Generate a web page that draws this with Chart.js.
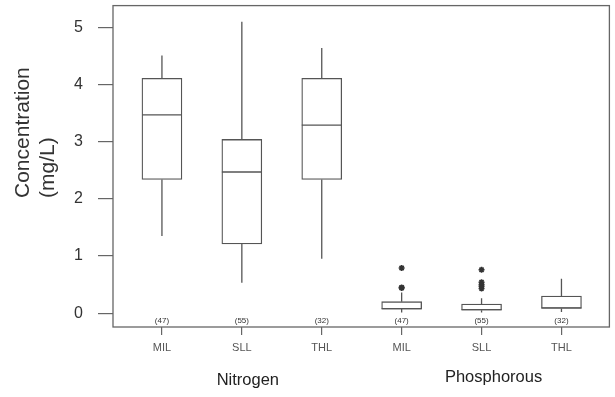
<!DOCTYPE html>
<html>
<head>
<meta charset="utf-8">
<script src="https://cdn.jsdelivr.net/npm/chart.js@4/dist/chart.umd.min.js"></script>
<style>
html,body{margin:0;padding:0;background:#fff;}
#wrap{width:615px;height:397px;position:relative;}
</style>
</head>
<body>
<div id="wrap"><canvas id="c" width="615" height="397"></canvas></div>
<script>
// ---- data ----
const categories = ['MIL', 'SLL', 'THL', 'MIL', 'SLL', 'THL'];
const groups = ['Nitrogen', 'Phosphorous'];
const counts = [47, 55, 32, 47, 55, 32];
const whiskerLow  = [1.35, 0.53, 0.95, 0.01, 0.01, 0.02];
const q1          = [2.34, 1.21, 2.34, 0.07, 0.05, 0.08];
const median      = [3.47, 2.47, 3.29, 0.08, 0.06, 0.09];
const q3          = [4.11, 3.04, 4.11, 0.20, 0.16, 0.30];
const whiskerHigh = [4.51, 5.10, 4.64, 0.36, 0.26, 0.60];
const outliersMIL_P = [0.44, 0.45, 0.79];
const outliersSLL_P = [0.43, 0.47, 0.50, 0.54, 0.76];
const yTicks = [0, 1, 2, 3, 4, 5];

// ---- styling ----
const FONT = "'Liberation Sans', Arial, sans-serif";
const LINE = '#555';
const TEXT = '#333';
const HALF = 0.25; // half box width in category units

const pos = categories.map((_, i) => i + 1);

const boxData = pos.map((x, i) => ({x: x, y: [q1[i], q3[i]]}));
const medianData = [];
pos.forEach((x, i) => {
  medianData.push({x: x - HALF, y: median[i]}, {x: x + HALF, y: median[i]}, {x: null, y: null});
});
const whiskerData = [];
pos.forEach((x, i) => {
  whiskerData.push({x: x, y: q3[i]}, {x: x, y: whiskerHigh[i]}, {x: null, y: null});
  whiskerData.push({x: x, y: whiskerLow[i]}, {x: x, y: q1[i]}, {x: null, y: null});
});
const outlierData = [
  ...outliersMIL_P.map(v => ({x: 4, y: v})),
  ...outliersSLL_P.map(v => ({x: 5, y: v}))
];

const decor = {
  id: 'decor',
  afterDraw(chart) {
    const ctx = chart.ctx;
    const a = chart.chartArea;
    const xs = chart.scales.x;
    ctx.save();
    // frame
    ctx.strokeStyle = '#666';
    ctx.lineWidth = 1.3;
    ctx.strokeRect(a.left, a.top, a.right - a.left, a.bottom - a.top);
    // counts
    ctx.fillStyle = TEXT;
    ctx.font = '8px ' + FONT;
    ctx.textAlign = 'center';
    ctx.textBaseline = 'middle';
    pos.forEach((x, i) => {
      ctx.fillText('(' + counts[i] + ')', xs.getPixelForValue(x), a.bottom - 6.5);
    });
    // group labels
    ctx.font = '16.5px ' + FONT;
    ctx.fillStyle = '#222';
    ctx.fillText(groups[0], xs.getPixelForValue(2) + 6, 380);
    ctx.fillText(groups[1], xs.getPixelForValue(5) + 12, 377);
    // y title
    ctx.font = '21px ' + FONT;
    ctx.fillStyle = TEXT;
    ctx.textAlign = 'left';
    ctx.save();
    ctx.translate(23, 198);
    ctx.rotate(-Math.PI / 2);
    ctx.fillText('Concentration', 0, 0);
    ctx.restore();
    ctx.save();
    ctx.translate(48, 198);
    ctx.rotate(-Math.PI / 2);
    ctx.fillText('(mg/L)', 0, 0);
    ctx.restore();
    ctx.restore();
  }
};

new Chart(document.getElementById('c'), {
  type: 'bar',
  data: {
    datasets: [
      {
        type: 'bar',
        data: boxData,
        backgroundColor: '#fff',
        borderColor: LINE,
        borderWidth: 1.3,
        borderSkipped: false,
        barThickness: 40,
        order: 2
      },
      {
        type: 'scatter',
        data: whiskerData,
        showLine: true,
        spanGaps: false,
        borderColor: LINE,
        borderWidth: 1.3,
        pointRadius: 0,
        order: 3
      },
      {
        type: 'scatter',
        data: medianData,
        showLine: true,
        spanGaps: false,
        borderColor: LINE,
        borderWidth: 1.3,
        pointRadius: 0,
        order: 1
      },
      {
        type: 'scatter',
        data: outlierData,
        showLine: false,
        pointStyle: 'star',
        pointRadius: 3,
        borderColor: '#333',
        backgroundColor: '#333',
        borderWidth: 1.6,
        order: 0
      }
    ]
  },
  options: {
    responsive: false,
    animation: false,
    events: [],
    layout: {padding: {top: 3, right: 4, left: 0, bottom: 0}},
    plugins: {legend: {display: false}, tooltip: {enabled: false}},
    scales: {
      x: {
        type: 'linear',
        min: 0.3875,
        max: 6.6,
        offset: false,
        afterBuildTicks: s => { s.ticks = pos.map(v => ({value: v})); },
        afterFit: s => { s.height = 70; s.paddingLeft = 0; s.paddingRight = 0; s.paddingTop = 0; s.paddingBottom = 0; },
        grid: {offset: false, drawOnChartArea: false, drawTicks: true, tickLength: 8, color: '#666', lineWidth: 1.2},
        border: {display: false},
        ticks: {
          padding: 6,
          color: '#555',
          font: {family: FONT, size: 11},
          maxRotation: 0,
          autoSkip: false,
          callback: v => categories[Math.round(v) - 1]
        }
      },
      y: {
        type: 'linear',
        min: -0.243,
        max: 5.382,
        afterBuildTicks: s => { s.ticks = yTicks.map(v => ({value: v})); },
        afterFit: s => { s.width = 113; s.paddingTop = 0; s.paddingBottom = 0; s.paddingLeft = 0; s.paddingRight = 0; },
        grid: {drawOnChartArea: false, drawTicks: true, tickLength: 15, color: '#666', lineWidth: 1.2},
        border: {display: false},
        ticks: {
          padding: 15,
          color: TEXT,
          font: {family: FONT, size: 16},
          callback: v => String(v)
        }
      }
    }
  },
  plugins: [decor]
});
</script>
</body>
</html>
